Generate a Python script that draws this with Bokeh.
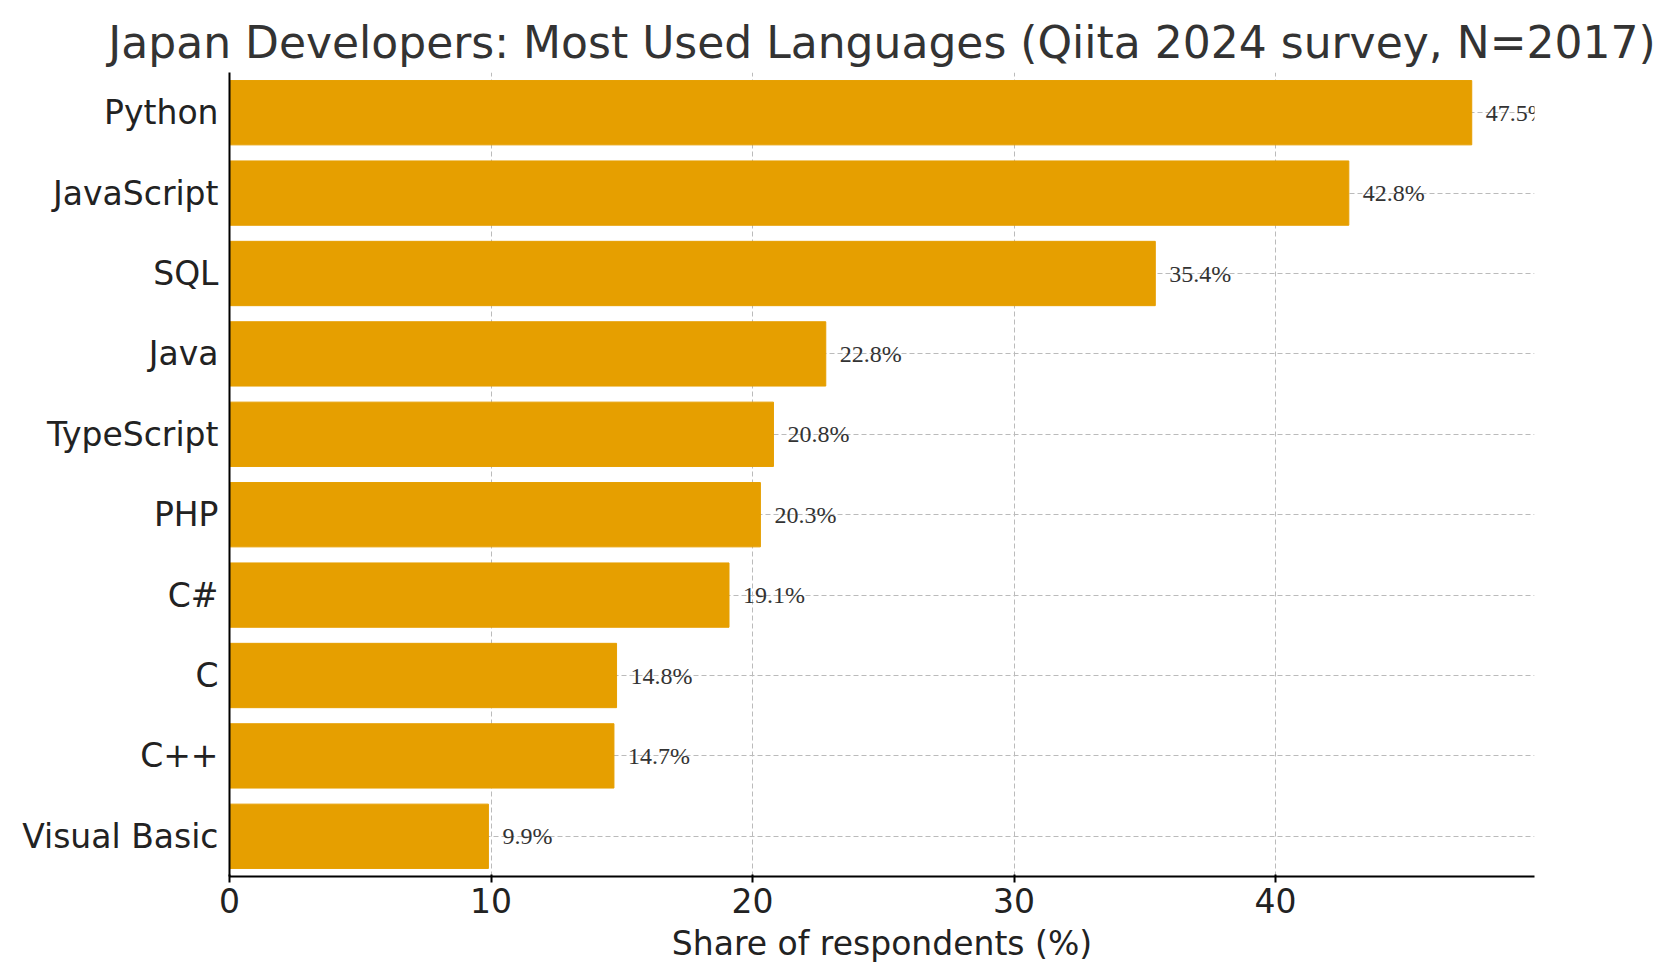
from bokeh.plotting import figure
from bokeh.models import ColumnDataSource, Range1d, FixedTicker, LabelSet
from bokeh.embed import file_html
from bokeh.resources import INLINE

languages = ["Python", "JavaScript", "SQL", "Java", "TypeScript", "PHP", "C#", "C", "C++", "Visual Basic"]
shares = [47.5, 42.8, 35.4, 22.8, 20.8, 20.3, 19.1, 14.8, 14.7, 9.9]
labels = [f"{v}%" for v in shares]
xticks = [0, 10, 20, 30, 40]

src = ColumnDataSource(dict(lang=languages, share=shares, label=labels))

p = figure(width=1660, height=965, y_range=list(reversed(languages)),
           x_range=Range1d(0, 49.9), output_backend="svg", toolbar_location=None,
           min_border_left=229, min_border_right=126, min_border_top=72, min_border_bottom=88)
p.title.text = "Japan Developers: Most Used Languages (Qiita 2024 survey, N=2017)"
p.title.text_font = "DejaVu Sans"
p.title.text_font_size = "44px"
p.title.text_font_style = "normal"
p.title.text_color = "#333333"
p.title.align = "center"

p.hbar(y="lang", right="share", height=0.8, source=src, color="#E69F00")
p.add_layout(LabelSet(x="share", y="lang", text="label", source=src, x_offset=14,
                      text_baseline="middle", text_font_size="24px",
                      text_color="#333333", text_font="DejaVu Sans"))

p.xaxis.ticker = FixedTicker(ticks=xticks)
p.xaxis.axis_label = "Share of respondents (%)"
for ax in (p.xaxis, p.yaxis):
    ax.major_label_text_font = "DejaVu Sans"
    ax.major_label_text_font_size = "33px"
    ax.major_label_text_color = "#222222"
    ax.axis_line_width = 2
    ax.major_tick_line_width = 2
    ax.minor_tick_line_color = None
p.xaxis.axis_label_text_font = "DejaVu Sans"
p.xaxis.axis_label_text_font_size = "33px"
p.xaxis.axis_label_text_font_style = "normal"
p.xaxis.axis_label_text_color = "#222222"
p.xaxis.axis_label_standoff = 8
p.yaxis.major_tick_line_color = None
p.xgrid.grid_line_dash = "5 3"
p.ygrid.grid_line_dash = "5 3"
p.xgrid.grid_line_color = "#bbbbbb"
p.ygrid.grid_line_color = "#bbbbbb"
p.outline_line_color = None

open("out.html", "w").write(file_html(p, INLINE))
